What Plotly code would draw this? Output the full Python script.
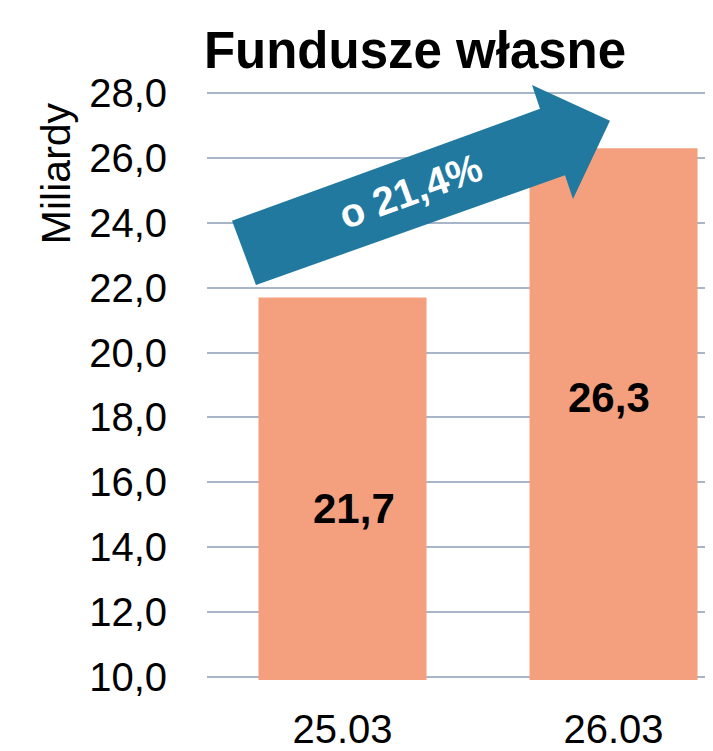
import plotly.graph_objects as go

categories = ["25.03", "26.03"]
values = [21.7, 26.3]
value_labels = ["21,7", "26,3"]
y_ticks = [10, 12, 14, 16, 18, 20, 22, 24, 26, 28]
y_tick_labels = ["10,0", "12,0", "14,0", "16,0", "18,0", "20,0", "22,0", "24,0", "26,0", "28,0"]
title_text = "Fundusze własne"
y_title = "Miliardy"
growth_text = "o 21,4%"

FONT = "Liberation Sans, Arial, sans-serif"
BAR_COLOR = "#F4A07F"
ARROW_COLOR = "#21799F"
GRID_COLOR = "#A8B4C8"

OFF = 8  # page body margin
W, H = 713 - OFF, 751 - OFF
L, R, T, B = 199, 0, 82, 65
pw, ph = W - L - R, H - T - B


def px(x, y):
    """reference-window pixel -> paper coords"""
    return (x - OFF - L) / pw, (H - B - (y - OFF)) / ph


fig = go.Figure()
fig.add_trace(go.Bar(
    x=[0, 1], y=values, marker=dict(color=BAR_COLOR, line=dict(width=0)),
    width=0.62, hoverinfo="skip",
))

# arrow shape
pts = [(232, 222), (540, 109), (532, 85), (610, 121), (573, 200), (565, 176), (256, 287)]
path = "M " + " L ".join(f"{px(x, y)[0]:.4f},{px(x, y)[1]:.4f}" for x, y in pts) + " Z"
fig.add_shape(type="path", path=path, xref="paper", yref="paper",
              fillcolor=ARROW_COLOR, line=dict(width=0), layer="above")

# bar value labels
label_y = [15.2, 18.6]
label_shift = [11, -5]
for i, (lab, yy, xs) in enumerate(zip(value_labels, label_y, label_shift)):
    fig.add_annotation(x=i, y=yy, xref="x", yref="y", text=f"<b>{lab}</b>", showarrow=False,
                       xshift=xs, xanchor="center", yanchor="middle",
                       font=dict(family=FONT, size=42, color="black"))

tx, ty = px(410, 192)
fig.add_annotation(x=tx, y=ty, xref="paper", yref="paper", text=f"<b>{growth_text}</b>", showarrow=False,
                   textangle=-20, xanchor="center", yanchor="middle",
                   font=dict(family=FONT, size=40, color="white"))

# y-axis title
fig.add_annotation(x=0, y=px(0, 174)[1], xref="paper", yref="paper", text=y_title, showarrow=False,
                   xshift=(56 - OFF) - L, textangle=-90, xanchor="center", yanchor="middle",
                   font=dict(family=FONT, size=41, color="black"))

fig.update_layout(
    width=W, height=H,
    margin=dict(l=L, r=R, t=T, b=B, pad=0),
    paper_bgcolor="white", plot_bgcolor="white",
    showlegend=False,
    title=dict(text=f"<b>{title_text}</b>", x=(415 - OFF) / W, xanchor="center",
               y=1 - (50 - OFF) / H, yanchor="middle",
               font=dict(family=FONT, size=51, color="black")),
    xaxis=dict(range=[-0.5, 1.367], tickvals=[0, 1], ticktext=categories,
               showgrid=False, showline=False, zeroline=False,
               ticks="", tickfont=dict(family=FONT, size=40, color="black"), ticklabelstandoff=22,
               fixedrange=True),
    yaxis=dict(range=[9.9, 28.1], tickvals=y_ticks, ticktext=y_tick_labels, showgrid=True,
               gridcolor=GRID_COLOR, gridwidth=2, zeroline=False, showline=False, ticks="",
               tickfont=dict(family=FONT, size=40, color="black"), ticklabelstandoff=39,
               fixedrange=True),
)

fig.write_html("out.html")
